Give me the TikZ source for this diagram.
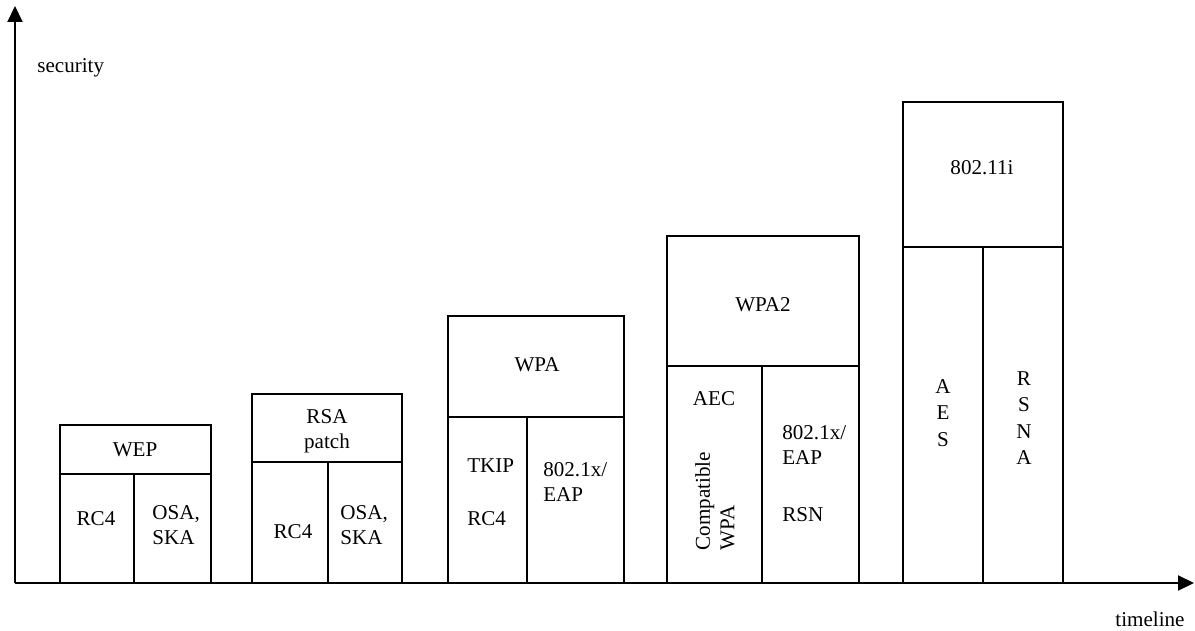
\documentclass[tikz,border=0pt]{standalone}
\usepackage{fontspec}
\setmainfont{Liberation Serif}
\usepackage{tikz}
\usetikzlibrary{arrows.meta}

\begin{document}
\begin{tikzpicture}[x=0.02cm, y=-0.02cm, font=\fontsize{12}{14}\selectfont,
    >={Triangle[length=0.32cm, width=0.3cm]},
    label/.style={inner sep=0pt, align=center},
    outer/.style={line width=1.4pt},
    inner/.style={line width=1pt}]
  \useasboundingbox (0,0) rectangle (1195,631);
  % axes
  \draw[->, line width=1.2pt] (15,583) -- (15,6);
  \draw[->, line width=1.2pt] (15,583) -- (1194,583);
  \node[label, anchor=base west] (sec) at (37,73) {security};
  \node[label] (time) at (1150,619) {timeline};
  % boxes: left/right/top/divider/split
  \foreach \l/\r/\t/\d/\s in {60/211/425/474/134, 252/402/394/462/328,
      448/624/316/417/527, 667/859/236/366/762, 903/1063/102/247/983}{
     \draw[inner] (\s,\d) -- (\s,583);
     \draw[outer] (\l,\d) -- (\r,\d);
     \draw[outer] (\l,583) rectangle (\r,\t);
  }
  % WEP
  \node[label] (wep) at (135,450) {WEP};
  \node[label] (wepa) at (96,519) {RC4};
  \node[label, anchor=west, align=left] (wepb) at (152,525) {OSA,\\SKA};
  % RSA patch
  \node[label] (rsa) at (327,431) {RSA\\patch};
  \node[label] (rsaa) at (293,532) {RC4};
  \node[label, anchor=west, align=left] (rsab) at (340,525) {OSA,\\SKA};
  % WPA
  \node[label] (wpa) at (537,365) {WPA};
  \node[label, anchor=west] (wpaa) at (467,466) {TKIP};
  \node[label, anchor=west] (wpab) at (467,519) {RC4};
  \node[label, anchor=west, align=left] (wpac) at (543,482) {802.1x/\\EAP};
  % WPA2
  \node[label] (wpt) at (763,305) {WPA2};
  \node[label] (wpta) at (714,399) {AEC};
  \node[label, rotate=90, align=left] (wptb) at (715,501) {Compatible\\WPA};
  \node[label, anchor=west, align=left] (wptc) at (782,445) {802.1x/\\EAP};
  \node[label, anchor=west] (wptd) at (782,515) {RSN};
  % 802.11i
  \node[label] (ieee) at (982,168) {802.11i};
  \node[label] (ieeea) at (943,413) {A\\[1pt]E\\[1pt]S};
  \node[label] (ieeeb) at (1024,418) {R\\[1pt]S\\[1pt]N\\[1pt]A};
\end{tikzpicture}
\end{document}
